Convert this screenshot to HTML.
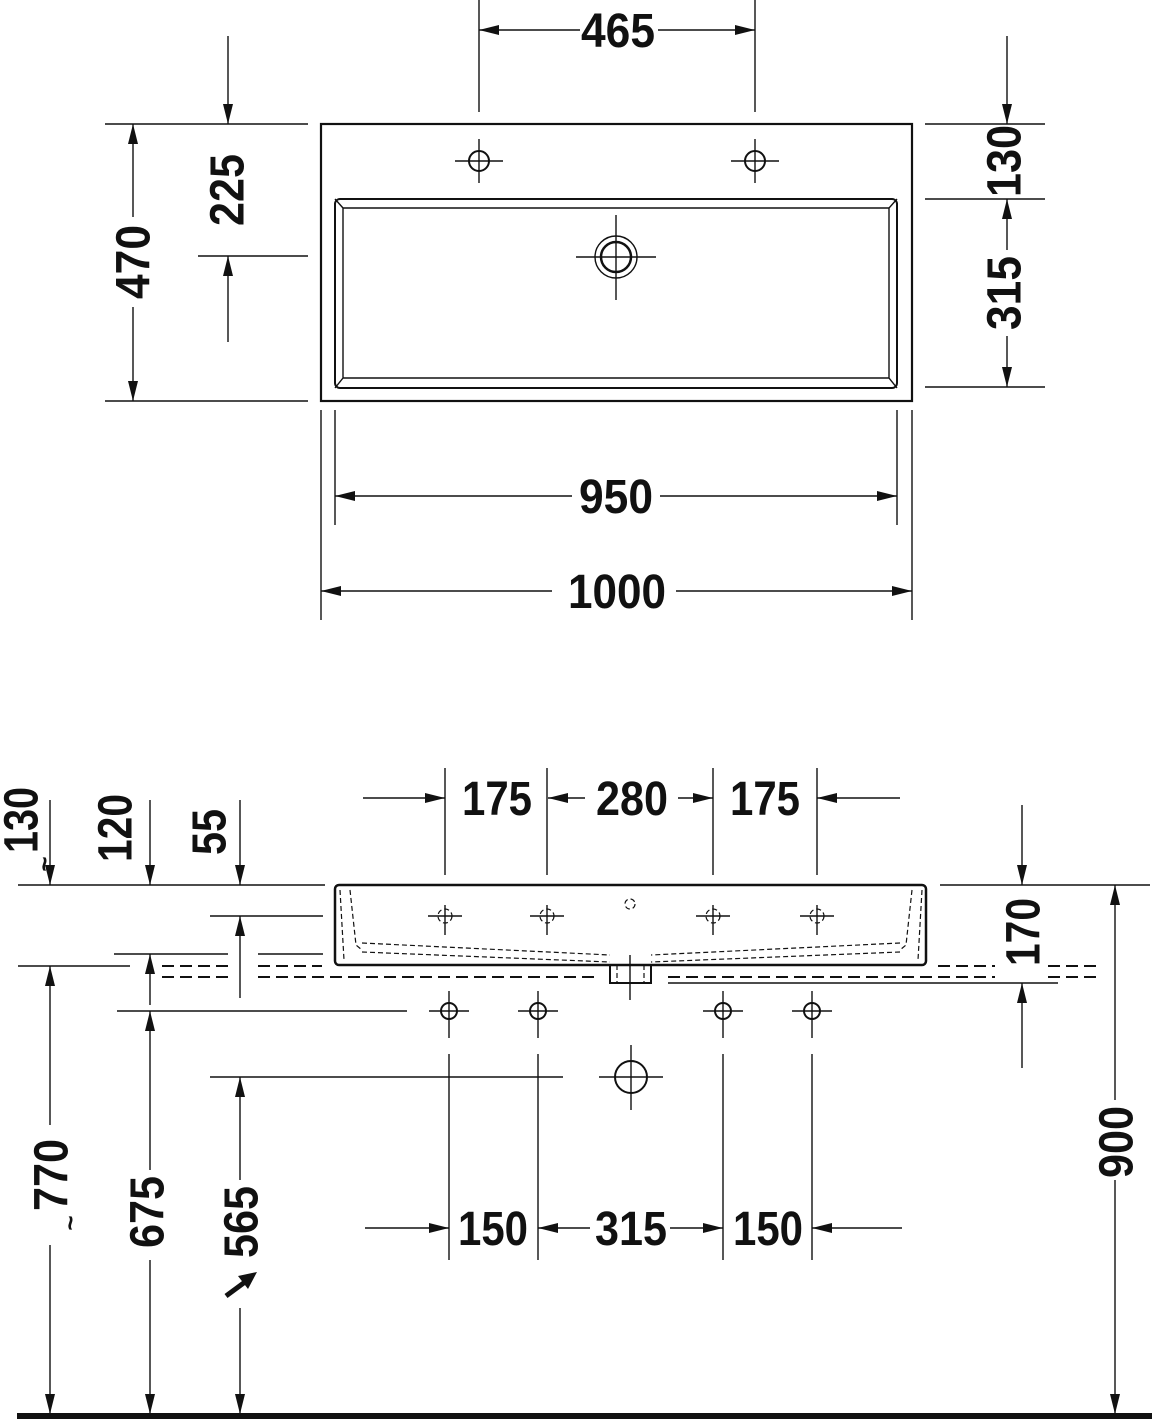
<!DOCTYPE html>
<html><head><meta charset="utf-8"><style>
html,body{margin:0;padding:0;background:#fff}
svg{display:block}
text{font-family:"Liberation Sans",sans-serif;font-weight:bold;fill:#111;font-size:48px}
</style></head><body>
<svg width="1152" height="1424" viewBox="0 0 1152 1424" xmlns="http://www.w3.org/2000/svg">
<defs>
<marker id="a" viewBox="0 0 20 10" refX="20" refY="5" markerWidth="20" markerHeight="10" markerUnits="userSpaceOnUse" orient="auto"><path d="M0,0 L20,5 L0,10 z" fill="#111"/></marker>
</defs>
<g stroke="#111" stroke-width="1.4" fill="none">
<!-- TOP VIEW -->
<rect x="321" y="124" width="591" height="277" stroke-width="2.2"/>
<rect x="335" y="199" width="562" height="189" rx="5" stroke-width="2"/>
<path d="M343 208 H889 V378 H343 Z M335 199 L343 208 M897 199 L889 208 M335 388 L343 378 M897 388 L889 378"/>
<circle cx="479" cy="161" r="10" stroke-width="2"/><path d="M455 161 H503 M479 139 V183"/>
<circle cx="755" cy="161" r="10" stroke-width="2"/><path d="M731 161 H779 M755 139 V183"/>
<circle cx="616" cy="257" r="21"/><circle cx="616" cy="257" r="15" stroke-width="2.5"/><path d="M576 257 H656 M616 215 V300"/>
<!-- 465 -->
<path d="M479 0 V112 M755 0 V112"/>
<path d="M580 30 H479" marker-end="url(#a)"/><path d="M658 30 H755" marker-end="url(#a)"/>
<!-- 470 -->
<path d="M105 124 H308 M105 401 H308 M198 256 H308"/>
<path d="M133 217 V124" marker-end="url(#a)"/><path d="M133 307 V401" marker-end="url(#a)"/>
<path d="M228 36 V124" marker-end="url(#a)"/><path d="M228 342 V256" marker-end="url(#a)"/>
<!-- right -->
<path d="M925 124 H1045 M925 199 H1045 M925 387 H1045"/>
<path d="M1007 36 V124" marker-end="url(#a)"/>
<path d="M1007 250 V199" marker-end="url(#a)"/><path d="M1007 336 V387" marker-end="url(#a)"/>
<!-- 950/1000 -->
<path d="M335 410 V525 M897 410 V525 M321 410 V620 M912 410 V620"/>
<path d="M572 496 H335" marker-end="url(#a)"/><path d="M660 496 H897" marker-end="url(#a)"/>
<path d="M552 591 H321" marker-end="url(#a)"/><path d="M676 591 H912" marker-end="url(#a)"/>

<!-- FRONT VIEW -->
<rect x="335" y="885" width="591" height="80" rx="4" stroke-width="2.5"/>
<path d="M610 965 V983 H651 V965" stroke-width="2"/>
<g stroke-dasharray="5 3" stroke-width="1.2">
<path d="M340 890 L344 960 M350 890 L356 945 L362 950 M922 890 L918 960 M912 890 L906 945 L900 950"/>
<path d="M362 943 L610 955 M362 952 L610 962 M900 943 L651 955 M900 952 L651 962 M617 965 V983 M644 965 V983"/>
<circle cx="630" cy="904" r="5"/>
<circle cx="445" cy="916" r="7"/><circle cx="547" cy="916" r="7"/><circle cx="713" cy="916" r="7"/><circle cx="817" cy="916" r="7"/>
</g>
<path d="M428 916 H462 M445 905 V935 M530 916 H564 M547 905 V935 M696 916 H730 M713 905 V935 M800 916 H834 M817 905 V935 M630 955 V1000"/>
<g stroke-dasharray="12 6" stroke-width="2">
<path d="M162 966 H228 M258 966 H322 M938 966 H995 M1048 966 H1100"/>
<path d="M162 977 H228 M258 977 H596 M668 977 H995 M1048 977 H1100"/>
</g>
<path d="M668 983 H1058"/>
<!-- left ext lines -->
<path d="M18 885 H325 M210 916 H323 M114 954 H228 M258 954 H323 M18 966 H130 M117 1011 H407 M210 1077 H563 M940 885 H1150"/>
<!-- left arrows -->
<path d="M50 800 V885" marker-end="url(#a)"/><path d="M150 800 V885" marker-end="url(#a)"/><path d="M240 800 V885" marker-end="url(#a)"/>
<path d="M150 1005 V954" marker-end="url(#a)"/><path d="M240 998 V916" marker-end="url(#a)"/>
<path d="M50 1125 V966" marker-end="url(#a)"/><path d="M50 1245 V1414" marker-end="url(#a)"/>
<path d="M150 1170 V1011" marker-end="url(#a)"/><path d="M150 1260 V1414" marker-end="url(#a)"/>
<path d="M240 1180 V1077" marker-end="url(#a)"/><path d="M240 1308 V1414" marker-end="url(#a)"/>
<path d="M226 1296 L245 1282" stroke-width="5"/>
<!-- right arrows -->
<path d="M1022 805 V885" marker-end="url(#a)"/><path d="M1022 1068 V983" marker-end="url(#a)"/>
<path d="M1115 1100 V885" marker-end="url(#a)"/><path d="M1115 1180 V1414" marker-end="url(#a)"/>
<!-- top dims front -->
<path d="M445 768 V875 M547 768 V875 M713 768 V875 M817 768 V875"/>
<path d="M363 798 H445" marker-end="url(#a)"/><path d="M585 798 H548" marker-end="url(#a)"/>
<path d="M678 798 H713" marker-end="url(#a)"/><path d="M900 798 H817" marker-end="url(#a)"/>
<!-- lower holes -->
<circle cx="449" cy="1011" r="8" stroke-width="2"/><circle cx="538" cy="1011" r="8" stroke-width="2"/>
<circle cx="723" cy="1011" r="8" stroke-width="2"/><circle cx="812" cy="1011" r="8" stroke-width="2"/>
<path d="M429 1011 H469 M449 991 V1038 M518 1011 H558 M538 991 V1038 M703 1011 H743 M723 991 V1038 M792 1011 H832 M812 991 V1038"/>
<path d="M449 1054 V1260 M538 1054 V1260 M723 1054 V1260 M812 1054 V1260"/>
<circle cx="631" cy="1077" r="16" stroke-width="2"/><path d="M599 1077 H663 M631 1045 V1110"/>
<path d="M365 1228 H449" marker-end="url(#a)"/><path d="M590 1228 H538" marker-end="url(#a)"/>
<path d="M670 1228 H723" marker-end="url(#a)"/><path d="M902 1228 H812" marker-end="url(#a)"/>
</g>
<polygon points="257,1272 238,1276 248,1289" fill="#111"/>
<rect x="17" y="1413" width="1135" height="6" fill="#111"/>

<!-- texts horizontal -->
<text x="618" y="47" text-anchor="middle" textLength="74" lengthAdjust="spacingAndGlyphs">465</text>
<text x="616" y="513" text-anchor="middle" textLength="74" lengthAdjust="spacingAndGlyphs">950</text>
<text x="617" y="608" text-anchor="middle" textLength="98" lengthAdjust="spacingAndGlyphs">1000</text>
<text x="497" y="815" text-anchor="middle" textLength="70" lengthAdjust="spacingAndGlyphs">175</text>
<text x="632" y="815" text-anchor="middle" textLength="72" lengthAdjust="spacingAndGlyphs">280</text>
<text x="765" y="815" text-anchor="middle" textLength="70" lengthAdjust="spacingAndGlyphs">175</text>
<text x="493" y="1245" text-anchor="middle" textLength="70" lengthAdjust="spacingAndGlyphs">150</text>
<text x="631" y="1245" text-anchor="middle" textLength="72" lengthAdjust="spacingAndGlyphs">315</text>
<text x="768" y="1245" text-anchor="middle" textLength="70" lengthAdjust="spacingAndGlyphs">150</text>
<!-- rotated -->
<g text-anchor="middle" dominant-baseline="central">
<text transform="translate(134,262) rotate(-90)" textLength="74" lengthAdjust="spacingAndGlyphs">470</text>
<text transform="translate(228,190) rotate(-90)" textLength="72" lengthAdjust="spacingAndGlyphs">225</text>
<text transform="translate(1005,161) rotate(-90)" textLength="72" lengthAdjust="spacingAndGlyphs">130</text>
<text transform="translate(1005,293) rotate(-90)" textLength="74" lengthAdjust="spacingAndGlyphs">315</text>
<text transform="translate(22,820) rotate(-90)" textLength="66" lengthAdjust="spacingAndGlyphs">130</text>
<text transform="translate(116,828) rotate(-90)" textLength="68" lengthAdjust="spacingAndGlyphs">120</text>
<text transform="translate(210,832) rotate(-90)" textLength="46" lengthAdjust="spacingAndGlyphs">55</text>
<text transform="translate(1024,932) rotate(-90)" textLength="68" lengthAdjust="spacingAndGlyphs">170</text>
<text transform="translate(1117,1142) rotate(-90)" textLength="72" lengthAdjust="spacingAndGlyphs">900</text>
<text transform="translate(52,1175) rotate(-90)" textLength="72" lengthAdjust="spacingAndGlyphs">770</text>
<text transform="translate(148,1212) rotate(-90)" textLength="72" lengthAdjust="spacingAndGlyphs">675</text>
<text transform="translate(242,1222) rotate(-90)" textLength="72" lengthAdjust="spacingAndGlyphs">565</text>
<text transform="translate(44,864) rotate(-90)" style="font-size:26px">~</text>
<text transform="translate(70,1223) rotate(-90)" style="font-size:26px">~</text>
</g>
</svg>
</body></html>
